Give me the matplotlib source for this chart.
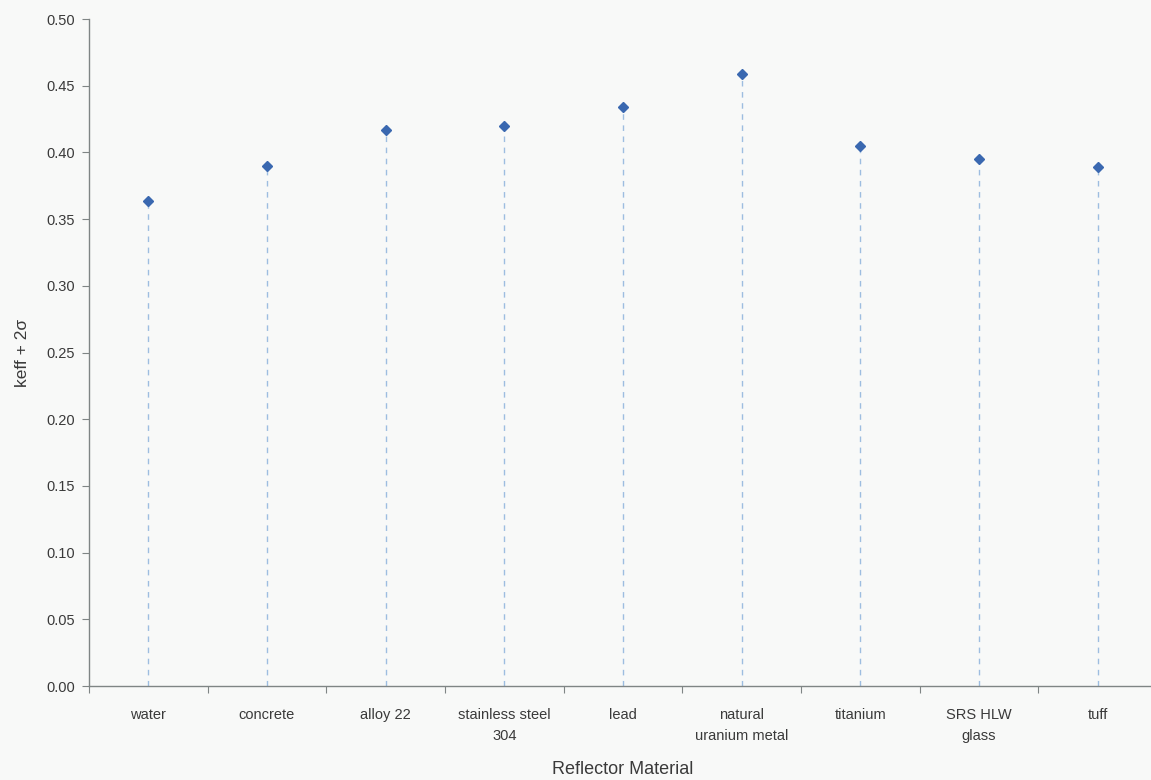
"""
Reflector material vs keff + 2 sigma - dot plot with drop lines.
"""
import matplotlib.pyplot as plt
import numpy as np

# ── Data ───────────────────────────────────────────────────────
materials = [
    "water", "concrete", "alloy 22", "stainless steel\n304", "lead",
    "natural\nuranium metal", "titanium", "SRS HLW\nglass", "tuff",
]
keff_2sigma = [0.364, 0.390, 0.417, 0.420, 0.434, 0.459, 0.405, 0.395, 0.389]
y_ticks = [0.00, 0.05, 0.10, 0.15, 0.20, 0.25, 0.30, 0.35, 0.40, 0.45, 0.50]

# ── Style ──────────────────────────────────────────────────────
plt.rcParams["font.family"] = ["Liberation Sans", "DejaVu Sans"]
TEXT = "#3a3a3a"
SPINE = "#7f8585"
MARKER = "#3a68b0"
DROP = "#9dbde0"

fig = plt.figure(figsize=(11.51, 7.8), dpi=100, facecolor="#f8f9f8")
ax = fig.add_axes([0.0773, 0.1205, 0.928, 0.855])
ax.set_facecolor("none")

x = np.arange(len(materials)) + 0.5
ax.vlines(x, 0, keff_2sigma, colors=DROP, linestyles=(0, (4, 4)), linewidth=1.0)
ax.plot(x, keff_2sigma, linestyle="none", marker="D", markersize=5.5,
        color=MARKER, zorder=3)

ax.set_xlim(0, len(materials))
ax.set_ylim(0, 0.5)
ax.set_yticks(y_ticks)
ax.set_yticklabels([f"{v:.2f}" for v in y_ticks])

# boundaries get the tick marks, category centres get the labels
ax.set_xticks(np.arange(len(materials) + 1))
ax.set_xticklabels([])
ax.set_xticks(x, minor=True)
ax.set_xticklabels(materials, minor=True, linespacing=1.65)
ax.tick_params(axis="x", which="minor", length=0, pad=16)
ax.tick_params(axis="x", which="major", length=5, direction="out", color=SPINE)
ax.tick_params(axis="y", length=5, direction="out", color=SPINE, pad=5)
ax.tick_params(axis="both", which="both", labelsize=10.5, labelcolor=TEXT)

for side in ("top", "right"):
    ax.spines[side].set_visible(False)
for side in ("left", "bottom"):
    ax.spines[side].set_color(SPINE)
    ax.spines[side].set_linewidth(1.0)

ax.set_xlabel("Reflector Material", fontsize=13, color=TEXT, labelpad=13)
ax.set_ylabel("keff + 2σ", fontsize=12.5, color=TEXT, labelpad=12)

fig.savefig("out.png", dpi=100, facecolor=fig.get_facecolor())
